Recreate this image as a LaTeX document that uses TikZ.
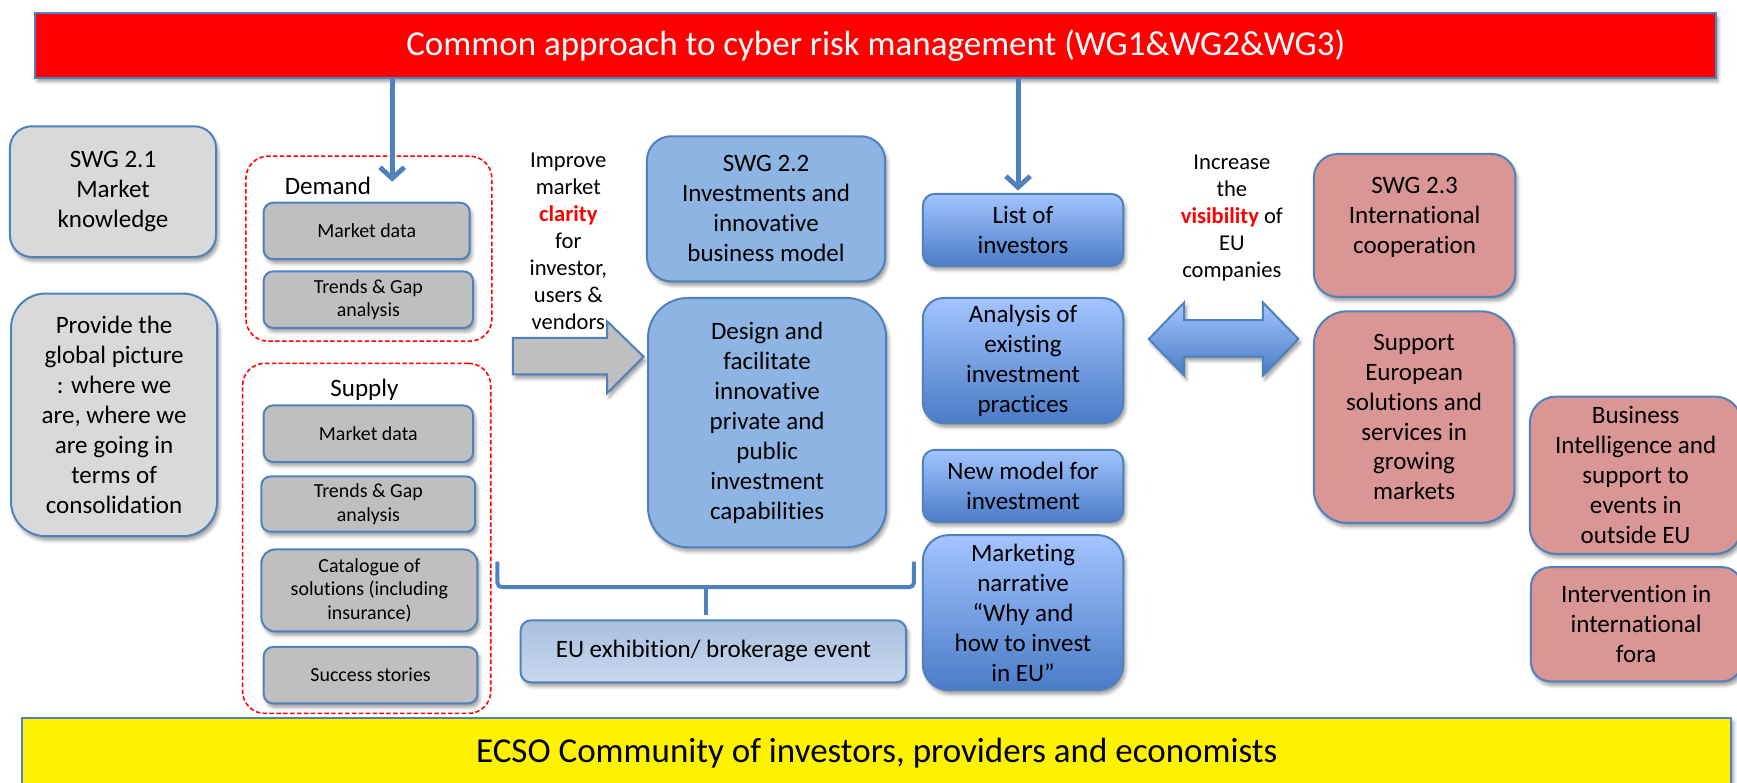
\documentclass[tikz,border=0pt]{standalone}
\usepackage{fontspec}
\setmainfont{Carlito}[Ligatures=NoCommon]
\usetikzlibrary{arrows.meta,shadows.blur}
\definecolor{bord}{HTML}{4F81BD}
\definecolor{lgray}{HTML}{D9D9D9}
\definecolor{mgray}{HTML}{BFBFBF}
\definecolor{midblue}{HTML}{8EB4E3}
\definecolor{btop}{HTML}{A3C4FF}
\definecolor{bbot}{HTML}{4A7CC6}
\definecolor{etop}{HTML}{A8BFDE}
\definecolor{ebot}{HTML}{C9D9EE}
\definecolor{pink}{HTML}{D99694}
\newcommand{\myboxfont}{\fontsize{11.3}{13.5}\selectfont}
\newcommand{\mysmallfont}{\fontsize{9}{10.6}\selectfont}
\newcommand{\mysidefont}{\fontsize{10.2}{12.2}\selectfont}
\newcommand{\mybigfont}{\fontsize{15.8}{19}\selectfont}
\newcommand{\placebox}[7]{%
  \pgfmathsetmacro{\pbx}{(#3+#5)/2}%
  \pgfmathsetmacro{\pby}{(#4+#6)/2}%
  \pgfmathsetmacro{\pbw}{(#5-#3)*0.5}%
  \pgfmathsetmacro{\pbh}{(#6-#4)*0.5}%
  \pgfmathsetmacro{\pbr}{min(\pbw,\pbh)/6}%
  \node[rounded corners=\pbr pt, minimum width=\pbw pt, minimum height=\pbh pt, #2] (#1) at (\pbx,\pby) {#7};%
}
\tikzset{
  shad/.style={blur shadow={shadow xshift=1pt, shadow yshift=-1.8pt, shadow blur radius=1.6pt, shadow opacity=40}},
  box/.style={draw=bord, line width=0.9pt, align=center, inner sep=1pt, font=\myboxfont, shad},
  graybox/.style={box, fill=lgray},
  innerbox/.style={box, fill=mgray, font=\mysmallfont},
  sbluebox/.style={box, fill=midblue},
  gbluebox/.style={box, top color=btop, bottom color=bbot},
  eubox/.style={box, top color=etop, bottom color=ebot},
  pinkbox/.style={box, fill=pink},
  dashbox/.style={draw=red, line width=0.7pt, dash pattern=on 2pt off 1.1pt, rounded corners=10pt},
  sidetxt/.style={align=center, font=\mysidefont, inner sep=0pt},
  lbltxt/.style={font=\myboxfont, inner sep=0pt},
  conn/.style={draw=bord, line width=2.2pt, -{Straight Barb[length=5pt,width=11pt]}},
  bracketline/.style={draw=bord, line width=1.8pt, rounded corners=2pt}
}
\begin{document}
\begin{tikzpicture}[x=0.5pt,y=-0.5pt]
\useasboundingbox (0,0) rectangle (1568,706);
% top and bottom bars
\placebox{title}{box, fill=red, sharp corners, text=white, font=\mybigfont}{32}{12}{1549}{70}{Common approach to cyber risk management (WG1\&WG2\&WG3)}
\placebox{ecso}{box, fill=yellow, sharp corners, font=\mybigfont}{20}{648}{1563}{712}{ECSO Community of investors, providers and economists}
% SWG 2.1
\placebox{swg21}{graybox}{9}{114}{195}{232}{SWG 2.1\\Market\\knowledge}
\placebox{provide}{graybox}{10}{265}{196}{484}{Provide the\\global picture\\: where we\\are, where we\\are going in\\terms of\\consolidation}
% demand
\node[dashbox, minimum width=111pt, minimum height=83.5pt] (demand) at (333,224.5) {};
\node[lbltxt] (demandlbl) at (296,168) {Demand};
\placebox{dmd1}{innerbox}{238}{183}{424}{234}{Market data}
\placebox{dmd2}{innerbox}{238}{245}{427}{296}{Trends \& Gap\\analysis}
% supply
\node[dashbox, minimum width=112pt, minimum height=158pt] (supply) at (331,486) {};
\node[lbltxt] (supplylbl) at (329,352) {Supply};
\placebox{sup1}{innerbox}{238}{366}{427}{417}{Market data}
\placebox{sup2}{innerbox}{236}{430}{429}{480}{Trends \& Gap\\analysis}
\placebox{sup3}{innerbox}{236}{496}{431}{570}{Catalogue of\\solutions (including\\insurance)}
\placebox{sup4}{innerbox}{238}{584}{431}{635}{Success stories}
% improve text
\node[sidetxt] (improve) at (513,218) {Improve\\market\\{\color{red}\bfseries clarity}\\for\\investor,\\users \&\\vendors};
% gray block arrow
\path[draw=bord, line width=0.9pt, fill=mgray, shad] (463,305) -- (548,305) -- (548,290) -- (581,322) -- (548,355) -- (548,338) -- (463,338) -- cycle;
% SWG 2.2
\placebox{swg22}{sbluebox}{584}{123}{799}{254}{SWG 2.2\\Investments and\\innovative\\business model}
\placebox{design}{sbluebox}{585}{269}{800}{494}{Design and\\facilitate\\innovative\\private and\\public\\investment\\capabilities}
% bracket
\draw[bracketline] (449,507) -- (449,530) -- (825,530) -- (825,507);
\draw[bracketline] (637,530) -- (637,555);
\placebox{eu}{eubox}{470}{560}{818}{616}{EU exhibition/ brokerage event}
% blue column
\placebox{list}{gbluebox}{833}{175}{1014}{240}{List of\\investors}
\placebox{analysis}{gbluebox}{833}{269}{1014}{382}{Analysis of\\existing\\investment\\practices}
\placebox{newmodel}{gbluebox}{833}{406}{1014}{471}{New model for\\investment}
\placebox{marketing}{gbluebox}{833}{483}{1014}{623}{Marketing\\narrative\\“Why and\\how to invest\\in EU”}
% increase text
\node[sidetxt] (increase) at (1112,197) {Increase\\the\\{\color{red}\bfseries visibility} of\\EU\\companies};
% double arrow
\path[draw=bord, line width=0.9pt, top color=btop, bottom color=bbot, shad] (1037,306) -- (1069,273) -- (1069,289) -- (1140,289) -- (1140,273) -- (1172,306) -- (1140,339) -- (1140,322) -- (1069,322) -- (1069,339) -- cycle;
% SWG 2.3
\placebox{swg23}{pinkbox}{1186}{139}{1368}{268}{}
\node[lbltxt, align=center] (swg23txt) at (1277,196) {SWG 2.3\\International\\cooperation};
\placebox{support}{pinkbox}{1186}{281}{1367}{472}{Support\\European\\solutions and\\services in\\growing\\markets}
\placebox{business}{pinkbox}{1381}{358}{1572}{500}{Business\\Intelligence and\\support to\\events in\\outside EU}
\placebox{intervention}{pinkbox}{1382}{512}{1572}{615}{Intervention in\\international\\fora}
% connectors
\coordinate (a1tip) at (354,164);
\coordinate (a2tip) at (919,172);
\draw[conn] (title.south -| a1tip) -- (a1tip);
\draw[conn] (title.south -| a2tip) -- (a2tip);
\end{tikzpicture}
\end{document}
